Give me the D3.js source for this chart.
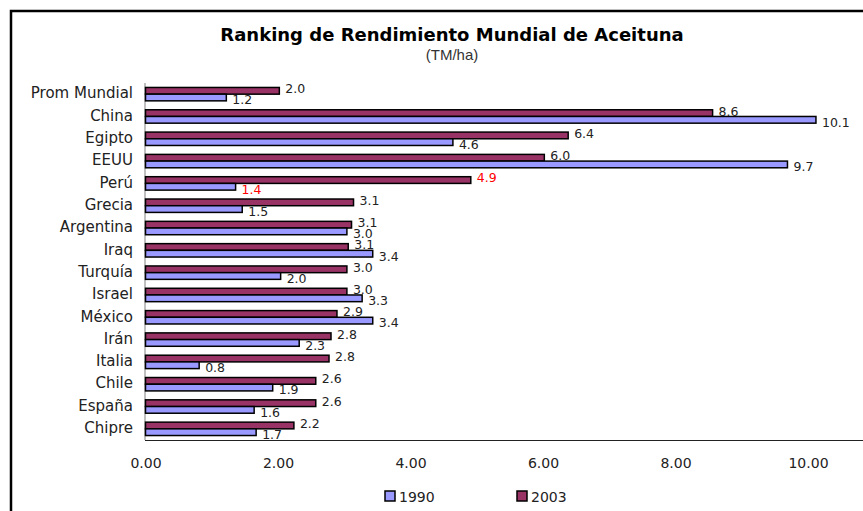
<!DOCTYPE html>
<html>
<head>
<meta charset="utf-8">
<script src="https://cdn.jsdelivr.net/npm/d3@7"></script>
<style>
  body { margin: 0; background: #fff; }
  svg { display: block; }
</style>
</head>
<body>
<div id="chart"></div>
<script>
var categories = ["Prom Mundial", "China", "Egipto", "EEUU", "Perú", "Grecia", "Argentina", "Iraq",
                  "Turquía", "Israel", "México", "Irán", "Italia", "Chile", "España", "Chipre"];
var series = ["2003", "1990"];
var values2003 = [2.02, 8.56, 6.38, 6.02, 4.91, 3.14, 3.11, 3.06, 3.04, 3.04, 2.89, 2.80, 2.77, 2.57, 2.57, 2.24];
var values1990 = [1.22, 10.12, 4.64, 9.69, 1.36, 1.46, 3.04, 3.43, 2.04, 3.27, 3.43, 2.32, 0.81, 1.92, 1.64, 1.67];
var xTicks = [0, 2, 4, 6, 8, 10];
var highlight = "Perú";

var width = 863, height = 511;
var colors = { "2003": "#993366", "1990": "#9999ff" };
var textColor = "#222";

var svg = d3.select("#chart").append("svg")
    .attr("width", width)
    .attr("height", height)
    .attr("viewBox", [0, 0, width, height]);

// frame (runs off the right and bottom edges)
svg.append("rect")
    .attr("x", 11).attr("y", 11)
    .attr("width", 1000).attr("height", 1000)
    .attr("fill", "none")
    .attr("stroke", "#000")
    .attr("stroke-width", 2.5);

svg.append("text")
    .attr("x", 452).attr("y", 41)
    .attr("text-anchor", "middle")
    .attr("font-family", "DejaVu Sans")
    .attr("font-weight", "bold")
    .attr("font-size", "18px")
    .attr("fill", "#000")
    .text("Ranking de Rendimiento Mundial de Aceituna");

svg.append("text")
    .attr("x", 452).attr("y", 60)
    .attr("text-anchor", "middle")
    .attr("font-family", "Liberation Sans")
    .attr("font-size", "15px")
    .attr("fill", "#333")
    .text("(TM/ha)");

var x = d3.scaleLinear().domain([0, 10]).range([145.5, 808]);
var y = d3.scaleBand().domain(categories).range([83, 440]).paddingInner(0.4).paddingOuter(0.2);
var ySub = d3.scaleBand().domain(series).range([0, y.bandwidth()]);

var rows = categories.map(function (c, i) {
    return { name: c, "2003": values2003[i], "1990": values1990[i] };
});

// axes
svg.append("line")
    .attr("x1", 145).attr("x2", 145)
    .attr("y1", 83).attr("y2", 440)
    .attr("stroke", "#808080").attr("stroke-width", 1);
svg.append("line")
    .attr("x1", 145).attr("x2", width)
    .attr("y1", 440.5).attr("y2", 440.5)
    .attr("stroke", "#222").attr("stroke-width", 1);

var xAxis = svg.append("g")
    .attr("transform", "translate(0,440)")
    .call(d3.axisBottom(x).tickValues(xTicks).tickFormat(d3.format(".2f")).tickSize(0).tickPadding(18));
xAxis.select(".domain").remove();
xAxis.selectAll("text")
    .attr("font-family", "DejaVu Sans")
    .attr("font-size", "14px")
    .attr("fill", textColor);

// category labels
svg.append("g").selectAll("text")
    .data(categories)
    .join("text")
    .attr("x", 133)
    .attr("y", function (d) { return y(d) + y.bandwidth() / 2 - 1; })
    .attr("dy", "0.35em")
    .attr("text-anchor", "end")
    .attr("font-family", "DejaVu Sans")
    .attr("font-size", "15px")
    .attr("fill", textColor)
    .text(function (d) { return d; });

// bars
var groups = svg.append("g").selectAll("g")
    .data(rows)
    .join("g")
    .attr("transform", function (d) { return "translate(0," + y(d.name) + ")"; });

groups.selectAll("rect")
    .data(function (d) { return series.map(function (s) { return { key: s, value: d[s] }; }); })
    .join("rect")
    .attr("x", x(0))
    .attr("y", function (d) { return ySub(d.key); })
    .attr("width", function (d) { return x(d.value) - x(0); })
    .attr("height", ySub.bandwidth())
    .attr("fill", function (d) { return colors[d.key]; })
    .attr("stroke", "#000")
    .attr("stroke-width", 1.5);

// value labels
groups.selectAll("text")
    .data(function (d) { return series.map(function (s) { return { key: s, value: d[s], name: d.name }; }); })
    .join("text")
    .attr("x", function (d) { return x(d.value) + 6; })
    .attr("y", function (d) {
        var c = ySub(d.key) + ySub.bandwidth() / 2;
        return d.key === "2003" ? c - 2 : c + 2.5;
    })
    .attr("dy", "0.35em")
    .attr("font-family", "DejaVu Sans")
    .attr("font-size", "12.5px")
    .attr("fill", function (d) { return d.name === highlight ? "#ff0000" : textColor; })
    .text(function (d) { return d3.format(".1f")(d.value); });

// legend
var legend = svg.append("g").selectAll("g")
    .data(["1990", "2003"])
    .join("g")
    .attr("transform", function (d, i) { return "translate(" + (385 + i * 132) + ",491)"; });
legend.append("rect")
    .attr("width", 10).attr("height", 10)
    .attr("fill", function (d) { return colors[d]; })
    .attr("stroke", "#000")
    .attr("stroke-width", 1.5);
legend.append("text")
    .attr("x", 14).attr("y", 11)
    .attr("font-family", "DejaVu Sans")
    .attr("font-size", "14px")
    .attr("fill", textColor)
    .text(function (d) { return d; });
</script>
</body>
</html>
